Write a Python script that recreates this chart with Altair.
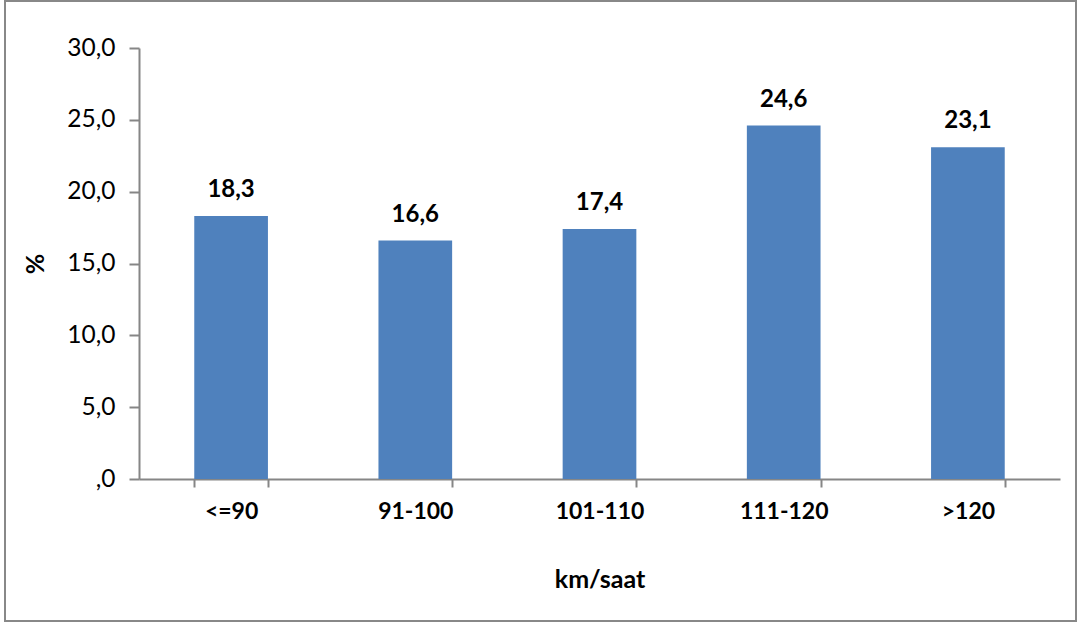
import altair as alt
import pandas as pd

categories = ["<=90", "91-100", "101-110", "111-120", ">120"]
values = [18.3, 16.6, 17.4, 24.6, 23.1]
value_labels = ["18,3", "16,6", "17,4", "24,6", "23,1"]

df = pd.DataFrame({"cat": categories, "val": values, "lab": value_labels})

FONT = "Lato"
W, H = 921, 431
PL, PT = 139, 48

x_enc = alt.X(
    "cat:N", sort=categories, title="km/saat",
    scale=alt.Scale(paddingInner=0.6, paddingOuter=0.3),
    axis=alt.Axis(
        labelAngle=0, labelFont=FONT, labelFontSize=23, labelFontWeight="bold",
        labelColor="black", labelPadding=13, tickBand="extent", tickSize=8,
        tickColor="#868686", domainColor="#868686", domainWidth=2, tickWidth=2,
        titleFont=FONT, titleFontSize=25, titleFontWeight="bold", titleColor="black",
        titlePadding=44,
    ),
)

y_enc = alt.Y(
    "val:Q", title="%",
    scale=alt.Scale(domain=[0, 30], nice=False),
    axis=alt.Axis(
        values=[0, 5, 10, 15, 20, 25, 30],
        labelExpr="datum.value == 0 ? ',0' : replace(format(datum.value, '.1f'), '.', ',')",
        labelFont=FONT, labelFontSize=24.5, labelColor="black", labelPadding=14,
        tickSize=10, tickColor="#868686", domainColor="#868686", domainWidth=2, tickWidth=2,
        grid=False,
        titleFont=FONT, titleFontSize=25, titleFontWeight="bold", titleColor="black",
        titleAngle=-90, titlePadding=18,
    ),
)

bars = alt.Chart(df).mark_bar(color="#4F81BD").encode(x=x_enc, y=y_enc)

text = alt.Chart(df).mark_text(
    font=FONT, fontSize=24, fontWeight="bold", color="black", dy=-19, baseline="alphabetic"
).encode(x=alt.X("cat:N", sort=categories), y="val:Q", text="lab:N")

frame = alt.Chart(df).mark_rect(
    fill=None, stroke="#888888", strokeWidth=2, clip=False
).encode(
    x=alt.value(5 - PL), x2=alt.value(1076 - PL),
    y=alt.value(1 - PT), y2=alt.value(621 - PT),
)

chart = alt.layer(frame, bars, text).properties(
    width=W, height=H,
    background="white",
    padding={"left": PL, "top": PT, "right": 1082 - PL - W, "bottom": 624 - PT - H},
    autosize=alt.AutoSizeParams(type="none"),
).configure_view(strokeWidth=0, stroke="transparent")

chart.save("out.html", embed_options={"renderer": "svg", "actions": False})
